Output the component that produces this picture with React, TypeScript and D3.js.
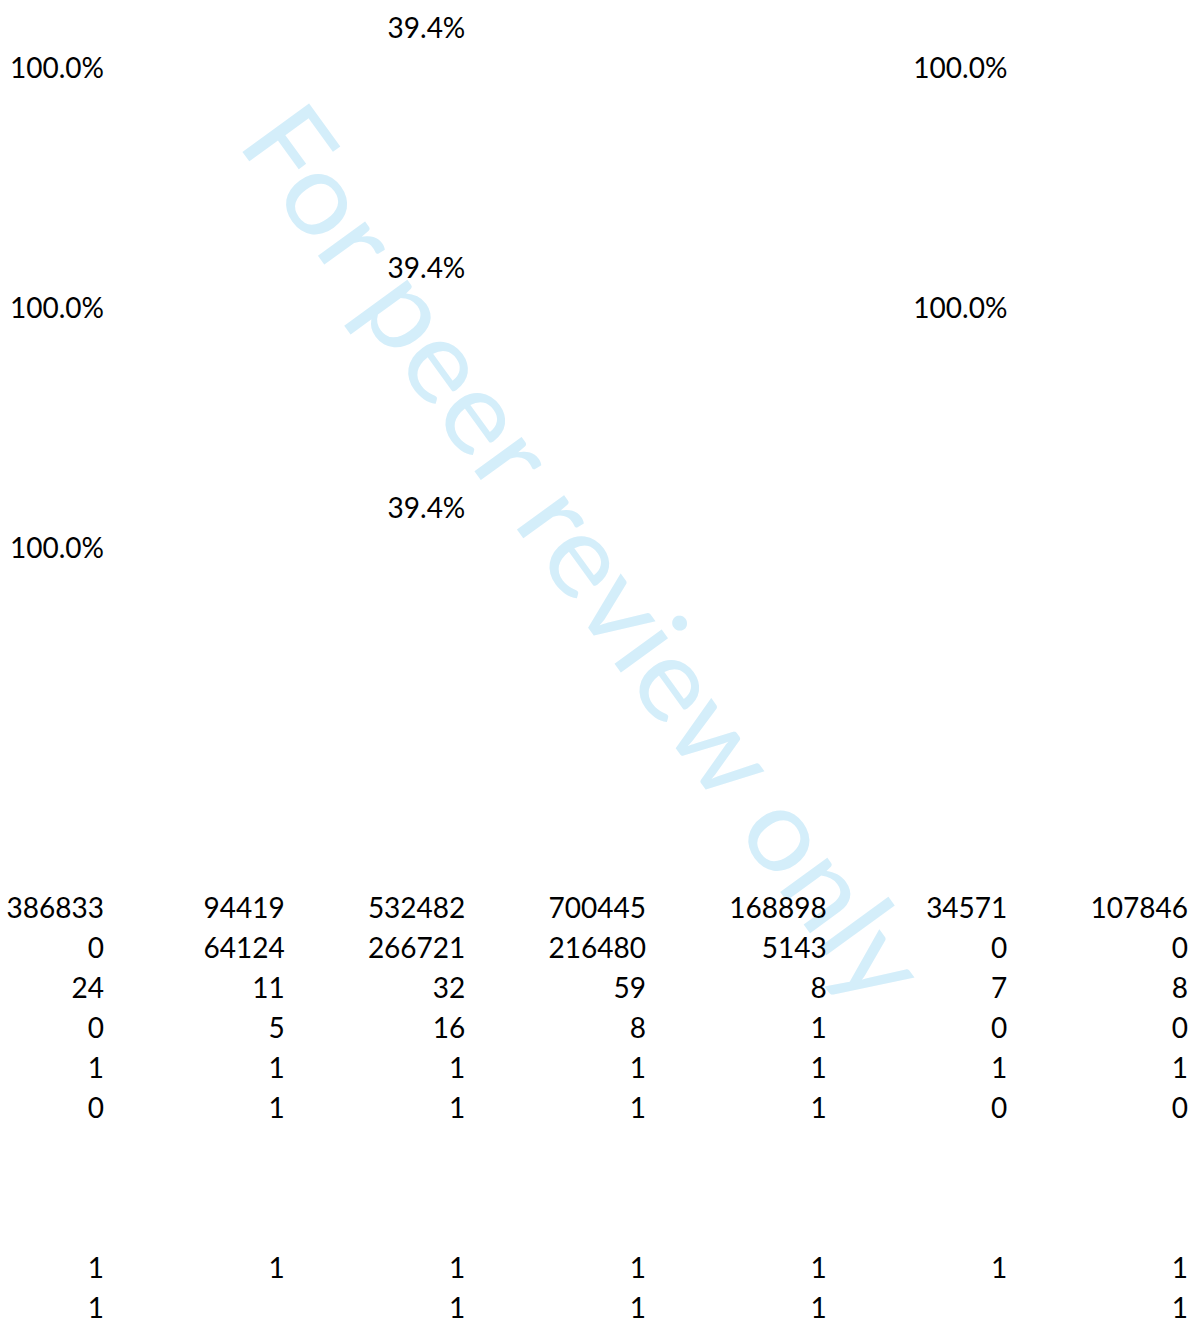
import React from 'react';
import * as d3 from 'd3';

// percent blocks (three repeated blocks, each two rows)
const pctTopRow = [null, null, '39.4%', null, null, null, null];
const pctBottomRow = ['100.0%', null, null, null, null, '100.0%', null];
const pctBottomRowLast = ['100.0%', null, null, null, null, null, null];

// count table
const countRow1 = [386833, 94419, 532482, 700445, 168898, 34571, 107846];
const countRow2 = [0, 64124, 266721, 216480, 5143, 0, 0];
const countRow3 = [24, 11, 32, 59, 8, 7, 8];
const countRow4 = [0, 5, 16, 8, 1, 0, 0];
const countRow5 = [1, 1, 1, 1, 1, 1, 1];
const countRow6 = [0, 1, 1, 1, 1, 0, 0];

// flag rows at the bottom
const flagRow1 = [1, 1, 1, 1, 1, 1, 1];
const flagRow2 = [1, null, 1, 1, 1, null, 1];

const watermark = 'For peer review only';

type Cell = string | number | null;

const App: React.FC = () => {
  const width = 1192;
  const height = 1326;

  // rows laid out on a 40px grid, columns right-aligned
  const rows: [number, Cell[]][] = [
    [0, pctTopRow], [1, pctBottomRow],
    [6, pctTopRow], [7, pctBottomRow],
    [12, pctTopRow], [13, pctBottomRowLast],
    [22, countRow1], [23, countRow2], [24, countRow3],
    [25, countRow4], [26, countRow5], [27, countRow6],
    [31, flagRow1], [32, flagRow2],
  ];

  const x = d3.scaleLinear().domain([0, 6]).range([104, 1188]);
  const y = d3.scaleLinear().domain([0, 32]).range([28, 1308]);

  return (
    <svg width={width} height={height} style={{ position: 'absolute', left: 0, top: 0, background: '#fff' }}>
      {/* watermark sits behind the numbers */}
      <text
        transform="translate(236,143) rotate(54)"
        fontFamily="Lato, 'Open Sans', sans-serif"
        fontSize={115}
        fill="#d4eefa"
        textLength={1075}
        lengthAdjust="spacingAndGlyphs"
      >{watermark}</text>
      <g fontFamily="Lato, 'Open Sans', sans-serif" fontSize={28} fill="#000" textAnchor="end">
        {rows.map(([r, cells], i) => (
          <g key={i}>
            {cells.map((v, c) => v === null ? null : (
              <text key={c} x={x(c)} y={y(r)} dy="0.37em">{String(v)}</text>
            ))}
          </g>
        ))}
      </g>
    </svg>
  );
};

export default App;
